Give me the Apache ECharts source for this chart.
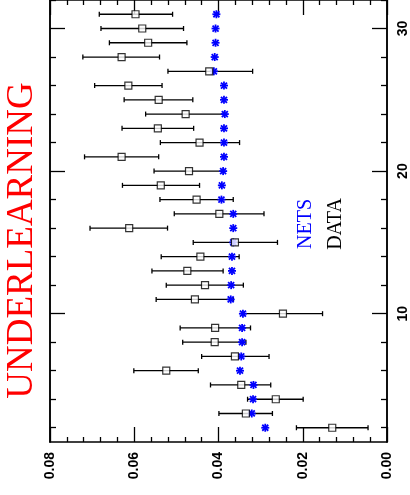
<!DOCTYPE html>
<html><head><meta charset="utf-8">
<script src="https://cdn.jsdelivr.net/npm/echarts@6/dist/echarts.min.js"></script>
<style>html,body{margin:0;padding:0;background:#fff}#c{width:410px;height:495px}</style>
</head><body><div id="c"></div>
<script>
var idx = [2,3,4,5,6,7,8,9,10,11,12,13,14,15,16,17,18,19,20,21,22,23,24,25,26,27,28,29,30,31];
var dataVal = [0.0130,0.0335,0.0264,0.0346,0.0524,0.0361,0.0409,0.0408,0.0247,0.0456,0.0432,0.0474,0.0443,0.0361,0.0612,0.0398,0.0452,0.0537,0.0470,0.0630,0.0445,0.0544,0.0478,0.0542,0.0614,0.0422,0.0630,0.0567,0.0581,0.0597];
var dataLo = [0.0045,0.0272,0.0199,0.0276,0.0448,0.0280,0.0335,0.0324,0.0153,0.0365,0.0341,0.0389,0.0351,0.0260,0.0521,0.0292,0.0365,0.0445,0.0389,0.0542,0.0350,0.0459,0.0387,0.0461,0.0534,0.0319,0.0540,0.0475,0.0483,0.0509];
var dataHi = [0.0215,0.0399,0.0331,0.0419,0.0601,0.0440,0.0485,0.0491,0.0339,0.0548,0.0524,0.0558,0.0536,0.0460,0.0705,0.0505,0.0539,0.0628,0.0553,0.0718,0.0538,0.0629,0.0573,0.0624,0.0694,0.0520,0.0722,0.0659,0.0679,0.0683];
var netsVal = [0.0289,0.0321,0.0318,0.0317,0.0349,0.0346,0.0344,0.0344,0.0342,0.0371,0.0370,0.0368,0.0368,0.0365,0.0365,0.0365,0.0393,0.0392,0.0389,0.0387,0.0387,0.0387,0.0385,0.0387,0.0387,0.0411,0.0409,0.0407,0.0407,0.0405];
var xTicks = [0, 0.02, 0.04, 0.06, 0.08];
var yMajor = [10, 20, 30];
var yMinor = [2,4,6,8,12,14,16,18,22,24,26,28,32];
var titleText = 'UNDERLEARNING';
var legendNets = 'NETS';
var legendData = 'DATA';

var chart = echarts.init(document.getElementById('c'));
var lineC = '#000';
function xAx(pos, showLabel){
  return {type:'value', position:pos, min:0, max:0.08, interval:0.02, inverse:true,
    axisLine:{show:true, lineStyle:{color:lineC, width:1.5}},
    axisTick:{show:true, inside:true, length:15, lineStyle:{color:lineC, width:1.3}},
    minorTick:{show:true, splitNumber:5, length:5, lineStyle:{color:lineC, width:1.3}},
    splitLine:{show:false}, minorSplitLine:{show:false},
    axisLabel:{show:showLabel, rotate:90, margin:10, color:'#000', fontSize:14, fontWeight:'bold', fontFamily:'Liberation Sans',
      formatter:function(v){return v.toFixed(2);}}
  };
}
function yAx(pos, vals, len, labels){
  return {type:'value', position:pos, min:1, max:32,
    axisLine:{show:true, onZero:false, lineStyle:{color:lineC, width:1.5}},
    axisTick:{show:true, inside:true, length:len, customValues:vals, lineStyle:{color:lineC, width:1.3}},
    splitLine:{show:false},
    axisLabel:{show:labels, customValues:vals, rotate:90, margin:9, color:'#000', fontSize:14, fontWeight:'bold', fontFamily:'Liberation Sans'}
  };
}
var errData = idx.map(function(k,i){return [dataLo[i], k, dataHi[i]];});
var boxData = idx.map(function(k,i){return [dataVal[i], k];});
var netsData = idx.map(function(k,i){return [netsVal[i], k];});

chart.setOption({
  animation:false,
  grid:{left:50, right:19, top:0, bottom:53, containLabel:false},
  xAxis:[xAx('bottom', true), xAx('top', false)],
  yAxis:[yAx('right', yMajor, 15, true), yAx('right', yMinor, 6, false), yAx('left', yMajor, 15, false), yAx('left', yMinor, 6, false)],
  graphic:[
    {type:'text', x:22.5, y:240.5, rotation:Math.PI/2, style:{text:titleText, fill:'#ff0000', font:'37px "Liberation Serif"', align:'center', verticalAlign:'middle'}},
    {type:'text', x:305.5, y:224, rotation:Math.PI/2, style:{text:legendNets, fill:'#0000ff', font:'20px "Liberation Serif"', align:'center', verticalAlign:'middle'}},
    {type:'text', x:335.5, y:224, rotation:Math.PI/2, style:{text:legendData, fill:'#000', font:'20px "Liberation Serif"', align:'center', verticalAlign:'middle'}}
  ],
  series:[
    {type:'custom', xAxisIndex:0, yAxisIndex:0, data:errData, encode:{x:[0,2], y:1},
      renderItem:function(params, api){
        var y = api.value(1);
        var a = api.coord([api.value(0), y]);
        var b = api.coord([api.value(2), y]);
        var st = {stroke:'#000', lineWidth:1.3};
        return {type:'group', children:[
          {type:'line', shape:{x1:a[0], y1:a[1], x2:b[0], y2:b[1]}, style:st},
          {type:'line', shape:{x1:a[0], y1:a[1]-2.5, x2:a[0], y2:a[1]+2.5}, style:st},
          {type:'line', shape:{x1:b[0], y1:b[1]-2.5, x2:b[0], y2:b[1]+2.5}, style:st}
        ]};
      }},
    {type:'scatter', xAxisIndex:0, yAxisIndex:0, data:boxData, symbol:'rect', symbolSize:7,
      itemStyle:{color:'#fff', borderColor:'#000', borderWidth:1.2}},
    {type:'custom', xAxisIndex:0, yAxisIndex:0, data:netsData, encode:{x:0, y:1},
      renderItem:function(params, api){
        var p = api.coord([api.value(0), api.value(1)]);
        var r = 4, d = 3;
        var st = {stroke:'#0000ff', lineWidth:1.8};
        return {type:'group', children:[
          {type:'line', shape:{x1:p[0]-r, y1:p[1], x2:p[0]+r, y2:p[1]}, style:st},
          {type:'line', shape:{x1:p[0], y1:p[1]-r, x2:p[0], y2:p[1]+r}, style:st},
          {type:'line', shape:{x1:p[0]-d, y1:p[1]-d, x2:p[0]+d, y2:p[1]+d}, style:st},
          {type:'line', shape:{x1:p[0]-d, y1:p[1]+d, x2:p[0]+d, y2:p[1]-d}, style:st}
        ]};
      }}
  ]
});
</script></body></html>
